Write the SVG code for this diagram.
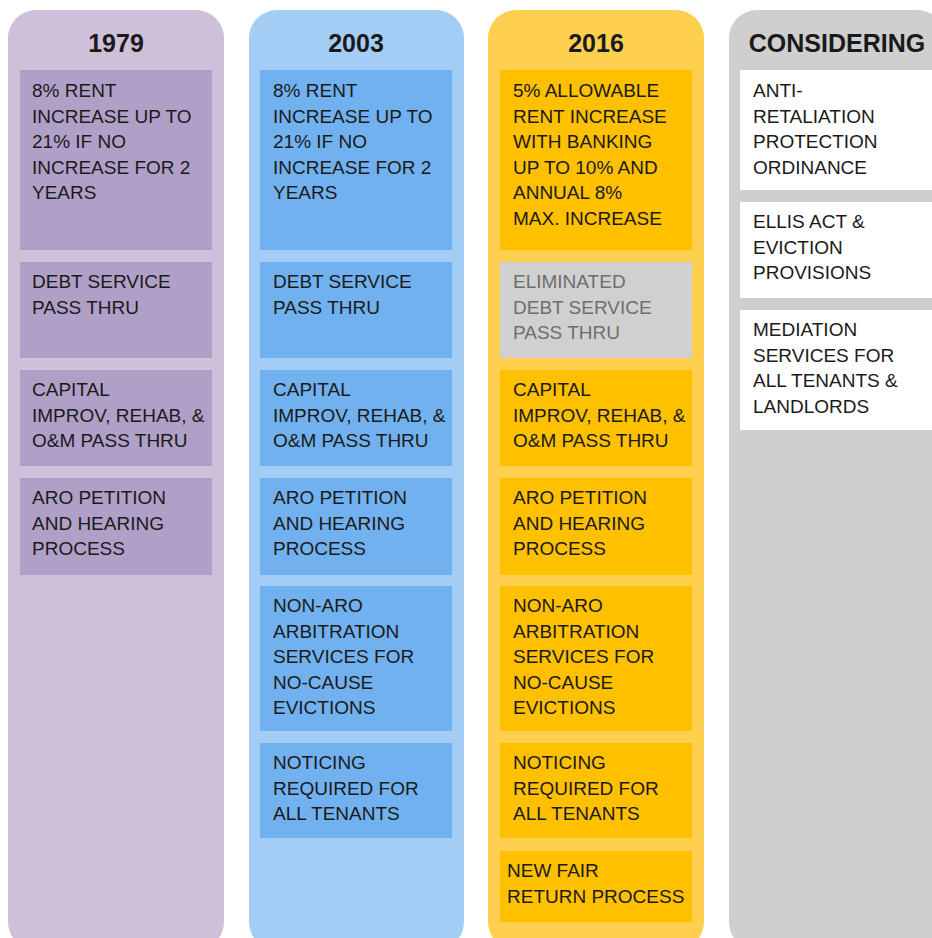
<svg xmlns="http://www.w3.org/2000/svg" width="932" height="938" viewBox="0 0 932 938">
<style>
text{font-family:"Liberation Sans",Arial,sans-serif;font-size:19px;fill:#1a1a1a}
.hd{font-size:25px;font-weight:bold;text-anchor:middle}
.c1{fill:#cfc0da}.b1{fill:#b0a0c8}
.c2{fill:#a4cdf6}.b2{fill:#72b1ef}
.c3{fill:#ffd050}.b3{fill:#ffc000}
.c4{fill:#cfcfcf}.b4{fill:#ffffff}
.bx{fill:#d0d0d0}
.gt{fill:#6e6e6e}
</style>
<rect width="932" height="938" fill="#ffffff"/>
<g id="col-1979">
<rect class="c1" x="8" y="10" width="216" height="940" rx="28"/>
<text class="hd" x="116" y="52">1979</text>
</g>
<g id="col-2003">
<rect class="c2" x="249" y="10" width="215" height="940" rx="28"/>
<text class="hd" x="356" y="52">2003</text>
</g>
<g id="col-2016">
<rect class="c3" x="488" y="10" width="216" height="940" rx="28"/>
<text class="hd" x="596" y="52">2016</text>
</g>
<g id="col-considering">
<rect class="c4" x="729" y="10" width="216" height="940" rx="28"/>
<text class="hd" x="837" y="52">CONSIDERING</text>
</g>

<g id="n1979-1"><rect class="b1" x="20" y="70" width="192" height="180"/>
<text x="32" y="97">8% RENT</text><text x="32" y="122.5">INCREASE UP TO</text><text x="32" y="148">21% IF NO</text><text x="32" y="173.5">INCREASE FOR 2</text><text x="32" y="199">YEARS</text></g>
<g id="n1979-2"><rect class="b1" x="20" y="262" width="192" height="96"/>
<text x="32" y="288">DEBT SERVICE</text><text x="32" y="313.5">PASS THRU</text></g>
<g id="n1979-3"><rect class="b1" x="20" y="370" width="192" height="96"/>
<text x="32" y="396">CAPITAL</text><text x="32" y="421.5">IMPROV, REHAB, &amp;</text><text x="32" y="447">O&amp;M PASS THRU</text></g>
<g id="n1979-4"><rect class="b1" x="20" y="478" width="192" height="97"/>
<text x="32" y="504">ARO PETITION</text><text x="32" y="529.5">AND HEARING</text><text x="32" y="555">PROCESS</text></g>

<g id="n2003-1"><rect class="b2" x="260" y="70" width="192" height="180"/>
<text x="273" y="97">8% RENT</text><text x="273" y="122.5">INCREASE UP TO</text><text x="273" y="148">21% IF NO</text><text x="273" y="173.5">INCREASE FOR 2</text><text x="273" y="199">YEARS</text></g>
<g id="n2003-2"><rect class="b2" x="260" y="262" width="192" height="96"/>
<text x="273" y="288">DEBT SERVICE</text><text x="273" y="313.5">PASS THRU</text></g>
<g id="n2003-3"><rect class="b2" x="260" y="370" width="192" height="96"/>
<text x="273" y="396">CAPITAL</text><text x="273" y="421.5">IMPROV, REHAB, &amp;</text><text x="273" y="447">O&amp;M PASS THRU</text></g>
<g id="n2003-4"><rect class="b2" x="260" y="478" width="192" height="97"/>
<text x="273" y="504">ARO PETITION</text><text x="273" y="529.5">AND HEARING</text><text x="273" y="555">PROCESS</text></g>
<g id="n2003-5"><rect class="b2" x="260" y="586" width="192" height="145"/>
<text x="273" y="612">NON-ARO</text><text x="273" y="637.5">ARBITRATION</text><text x="273" y="663">SERVICES FOR</text><text x="273" y="688.5">NO-CAUSE</text><text x="273" y="714">EVICTIONS</text></g>
<g id="n2003-6"><rect class="b2" x="260" y="743" width="192" height="95"/>
<text x="273" y="769">NOTICING</text><text x="273" y="794.5">REQUIRED FOR</text><text x="273" y="820">ALL TENANTS</text></g>

<g id="n2016-1"><rect class="b3" x="500" y="70" width="192" height="180"/>
<text x="513" y="97">5% ALLOWABLE</text><text x="513" y="122.5">RENT INCREASE</text><text x="513" y="148">WITH BANKING</text><text x="513" y="173.5">UP TO 10% AND</text><text x="513" y="199">ANNUAL 8%</text><text x="513" y="224.5">MAX. INCREASE</text></g>
<g id="n2016-2"><rect class="bx" x="500" y="262" width="192" height="96"/>
<text class="gt" x="513" y="288">ELIMINATED</text><text class="gt" x="513" y="313.5">DEBT SERVICE</text><text class="gt" x="513" y="339">PASS THRU</text></g>
<g id="n2016-3"><rect class="b3" x="500" y="370" width="192" height="96"/>
<text x="513" y="396">CAPITAL</text><text x="513" y="421.5">IMPROV, REHAB, &amp;</text><text x="513" y="447">O&amp;M PASS THRU</text></g>
<g id="n2016-4"><rect class="b3" x="500" y="478" width="192" height="97"/>
<text x="513" y="504">ARO PETITION</text><text x="513" y="529.5">AND HEARING</text><text x="513" y="555">PROCESS</text></g>
<g id="n2016-5"><rect class="b3" x="500" y="586" width="192" height="145"/>
<text x="513" y="612">NON-ARO</text><text x="513" y="637.5">ARBITRATION</text><text x="513" y="663">SERVICES FOR</text><text x="513" y="688.5">NO-CAUSE</text><text x="513" y="714">EVICTIONS</text></g>
<g id="n2016-6"><rect class="b3" x="500" y="743" width="192" height="95"/>
<text x="513" y="769">NOTICING</text><text x="513" y="794.5">REQUIRED FOR</text><text x="513" y="820">ALL TENANTS</text></g>
<g id="n2016-7"><rect class="b3" x="500" y="851" width="192" height="71"/>
<text x="507" y="877">NEW FAIR</text><text x="507" y="902.5">RETURN PROCESS</text></g>

<g id="ncons-1"><rect class="b4" x="740" y="70" width="200" height="120"/>
<text x="753" y="97">ANTI-</text><text x="753" y="122.5">RETALIATION</text><text x="753" y="148">PROTECTION</text><text x="753" y="173.5">ORDINANCE</text></g>
<g id="ncons-2"><rect class="b4" x="740" y="202" width="200" height="96"/>
<text x="753" y="228">ELLIS ACT &amp;</text><text x="753" y="253.5">EVICTION</text><text x="753" y="279">PROVISIONS</text></g>
<g id="ncons-3"><rect class="b4" x="740" y="310" width="200" height="120"/>
<text x="753" y="336">MEDIATION</text><text x="753" y="361.5">SERVICES FOR</text><text x="753" y="387">ALL TENANTS &amp;</text><text x="753" y="412.5">LANDLORDS</text></g>
<g id="connectors"></g>
</svg>
